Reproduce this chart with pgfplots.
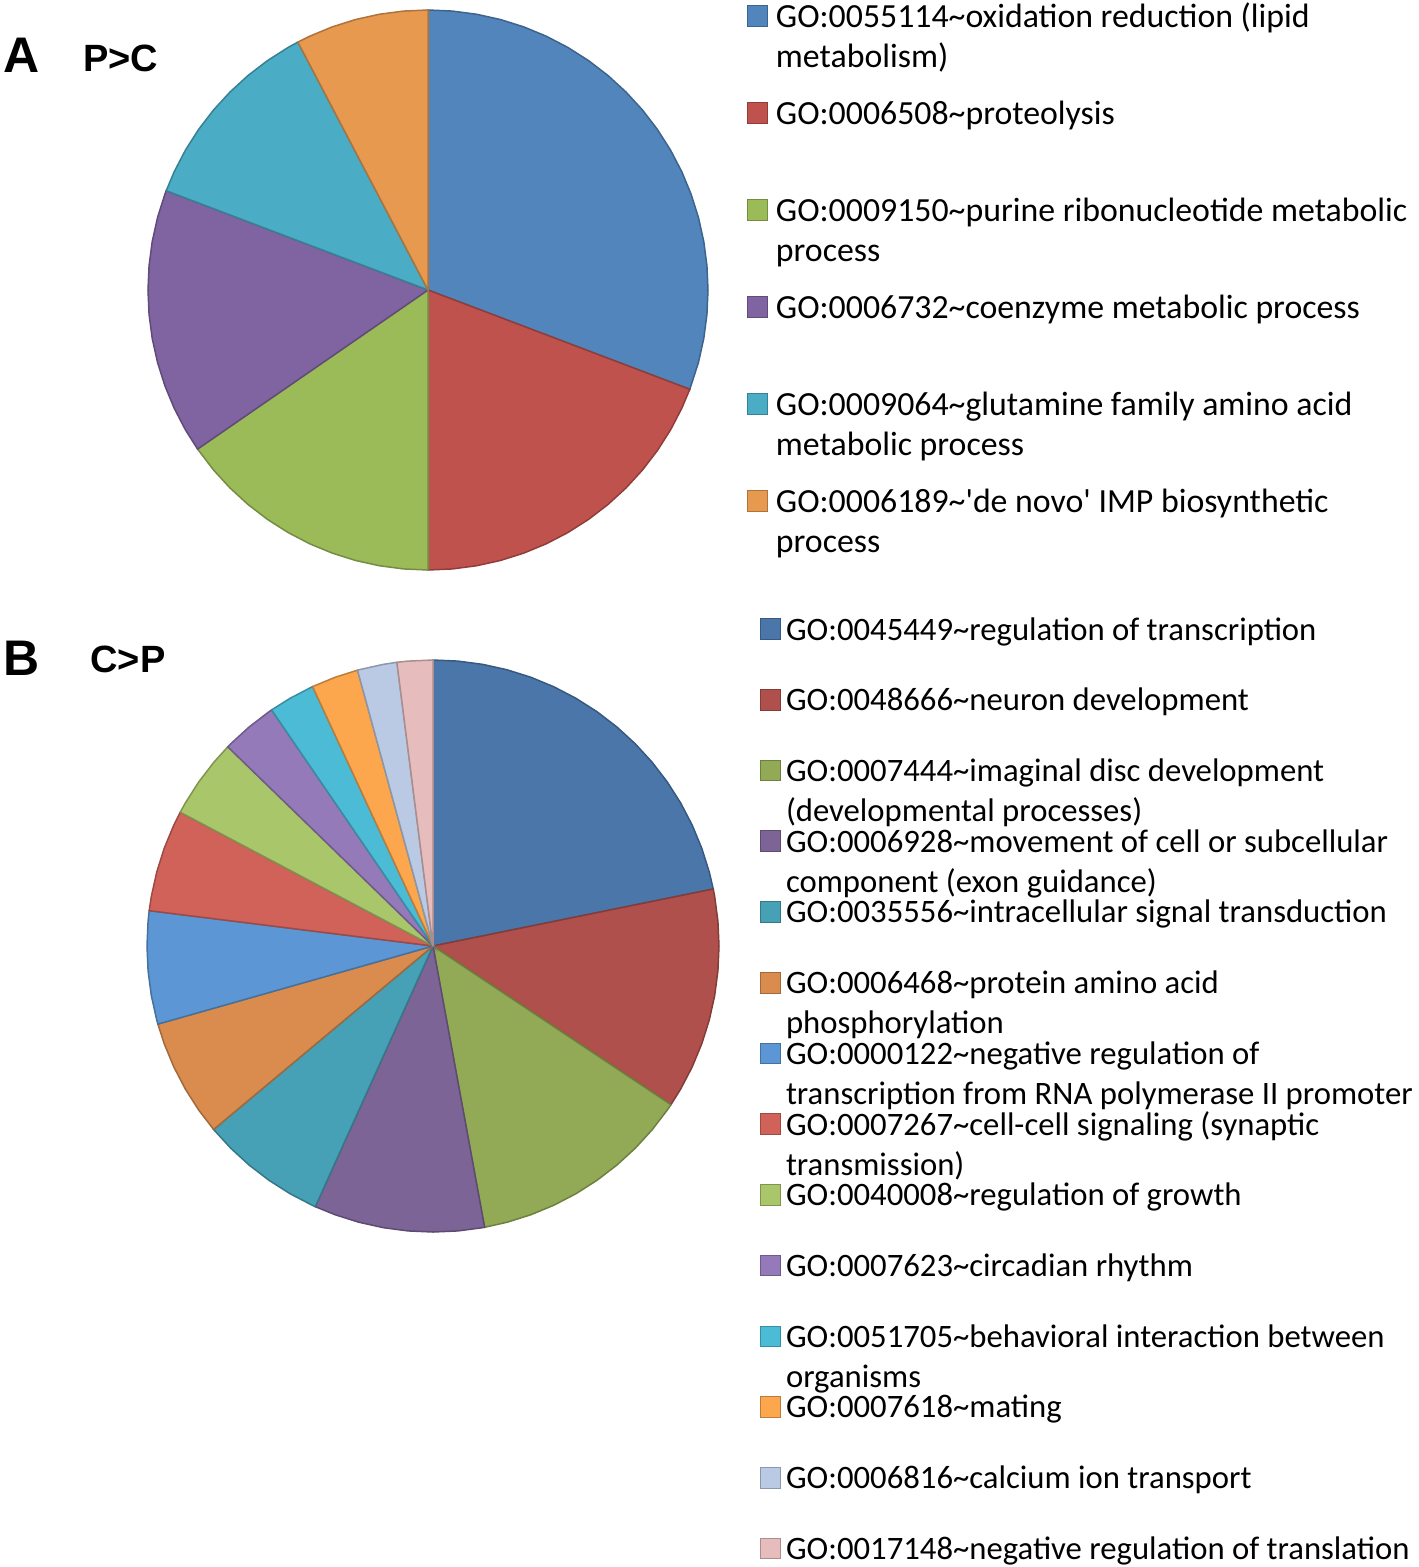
\documentclass[border=0pt]{standalone}
\usepackage{fontspec}
\usepackage{pgfplots}
\pgfplotsset{compat=1.18}
\usepgfplotslibrary{polar}
\setmainfont{Carlito}
\newfontfamily\labfont{Liberation Sans}
% colours, pie A
\definecolor{cA1}{RGB}{81,133,187}
\definecolor{cA2}{RGB}{192,82,78}
\definecolor{cA3}{RGB}{155,187,89}
\definecolor{cA4}{RGB}{128,100,162}
\definecolor{cA5}{RGB}{75,172,198}
\definecolor{cA6}{RGB}{232,153,80}
% colours, pie B
\definecolor{cB1}{RGB}{74,118,170}
\definecolor{cB2}{RGB}{176,80,76}
\definecolor{cB3}{RGB}{146,170,86}
\definecolor{cB4}{RGB}{124,100,150}
\definecolor{cB5}{RGB}{70,160,182}
\definecolor{cB6}{RGB}{218,140,78}
\definecolor{cB7}{RGB}{92,150,212}
\definecolor{cB8}{RGB}{208,98,90}
\definecolor{cB9}{RGB}{170,198,106}
\definecolor{cB10}{RGB}{148,122,184}
\definecolor{cB11}{RGB}{76,188,214}
\definecolor{cB12}{RGB}{252,166,78}
\definecolor{cB13}{RGB}{186,202,228}
\definecolor{cB14}{RGB}{230,188,188}
\newcommand\entA[1]{\raisebox{0pt}[14pt][34.5pt]{\parbox[t]{400pt}{\raggedright #1}}}
\newcommand\entB[1]{\raisebox{0pt}[14pt][21.36pt]{\parbox[t]{400pt}{\raggedright #1}}}
\newcommand\tl{\textasciitilde}
\pgfplotsset{
  pie/.style={
    scale only axis, hide axis, ymin=0, ymax=1, clip=false, anchor=center,
    legend image code/.code={\draw[##1,line width=0.5pt] (0pt,0.3pt) rectangle (10pt,10.6pt);},
    legend style={anchor=north west, draw=none, fill=none, inner sep=0pt, outer sep=0pt,
      row sep=0pt, column sep=4pt,
      nodes={inner sep=0pt, outer sep=0pt, text depth=, text height=},
      cells={anchor=base west}},
  },
  sl/.style={fill=#1, draw=#1!75!black, line width=0.75pt},
}
\begin{document}
\begin{tikzpicture}
\path[use as bounding box] (0pt,0pt) rectangle (709pt,-783.5pt);
\node[anchor=base west, inner sep=0pt, font=\labfont\bfseries\fontsize{25}{25}\selectfont] at (1.5pt,-36.5pt) {A};
\node[anchor=base west, inner sep=0pt, font=\labfont\bfseries\fontsize{19}{19}\selectfont] at (41.5pt,-36pt) {P>C};
\node[anchor=base west, inner sep=0pt, font=\labfont\bfseries\fontsize{25}{25}\selectfont] at (1.5pt,-337.5pt) {B};
\node[anchor=base west, inner sep=0pt, font=\labfont\bfseries\fontsize{19}{19}\selectfont] at (45pt,-336pt) {C>P};

\begin{polaraxis}[pie, at={(214pt,-145pt)}, width=280pt, height=280pt,
  legend style={at={(1.0696,1.0196)}, font=\fontsize{16.9}{20}\selectfont}]
\addplot[sl=cA1] coordinates {(0,0) (-20.77,1) (-15,1) (-10,1) (-5,1) (0,1) (5,1) (10,1) (15,1) (20,1) (25,1) (30,1) (35,1) (40,1) (45,1) (50,1) (55,1) (60,1) (65,1) (70,1) (75,1) (80,1) (85,1) (90,1)} -- cycle;
\addlegendentry{{\entA{GO:0055114\tl oxidation reduction (lipid\\metabolism)}}}
\addplot[sl=cA2] coordinates {(0,0) (-90,1) (-85,1) (-80,1) (-75,1) (-70,1) (-65,1) (-60,1) (-55,1) (-50,1) (-45,1) (-40,1) (-35,1) (-30,1) (-25,1) (-20.77,1)} -- cycle;
\addlegendentry{{\entA{GO:0006508\tl proteolysis}}}
\addplot[sl=cA3] coordinates {(0,0) (-145.38,1) (-140,1) (-135,1) (-130,1) (-125,1) (-120,1) (-115,1) (-110,1) (-105,1) (-100,1) (-95,1) (-90,1)} -- cycle;
\addlegendentry{{\entA{GO:0009150\tl purine ribonucleotide metabolic\\process}}}
\addplot[sl=cA4] coordinates {(0,0) (159.23,1) (160,1) (165,1) (170,1) (175,1) (180,1) (185,1) (190,1) (195,1) (200,1) (205,1) (210,1) (214.62,1)} -- cycle;
\addlegendentry{{\entA{GO:0006732\tl coenzyme metabolic process}}}
\addplot[sl=cA5] coordinates {(0,0) (117.69,1) (120,1) (125,1) (130,1) (135,1) (140,1) (145,1) (150,1) (155,1) (159.23,1)} -- cycle;
\addlegendentry{{\entA{GO:0009064\tl glutamine family amino acid\\metabolic process}}}
\addplot[sl=cA6] coordinates {(0,0) (90,1) (95,1) (100,1) (105,1) (110,1) (115,1) (117.69,1)} -- cycle;
\addlegendentry{{\entA{GO:0006189\tl\textquotesingle de novo\textquotesingle{} IMP biosynthetic\\process}}}
\end{polaraxis}

\begin{polaraxis}[pie, at={(216.5pt,-473pt)}, width=286pt, height=286pt,
  legend style={at={(1.0717,1.0839)}, column sep=2.5pt, font=\fontsize{16.35}{20}\selectfont}]
\addplot[sl=cB1] coordinates {(0,0) (11.5,1) (15,1) (20,1) (25,1) (30,1) (35,1) (40,1) (45,1) (50,1) (55,1) (60,1) (65,1) (70,1) (75,1) (80,1) (85,1) (90,1)} -- cycle;
\addlegendentry{{\entB{GO:0045449\tl regulation of transcription}}}
\addplot[sl=cB2] coordinates {(0,0) (-33.7,1) (-30,1) (-25,1) (-20,1) (-15,1) (-10,1) (-5,1) (0,1) (5,1) (10,1) (11.5,1)} -- cycle;
\addlegendentry{{\entB{GO:0048666\tl neuron development}}}
\addplot[sl=cB3] coordinates {(0,0) (-79.6,1) (-75,1) (-70,1) (-65,1) (-60,1) (-55,1) (-50,1) (-45,1) (-40,1) (-35,1) (-33.7,1)} -- cycle;
\addlegendentry{{\entB{GO:0007444\tl imaginal disc development\\(developmental processes)}}}
\addplot[sl=cB4] coordinates {(0,0) (245.7,1) (250,1) (255,1) (260,1) (265,1) (270,1) (275,1) (280,1) (280.4,1)} -- cycle;
\addlegendentry{{\entB{GO:0006928\tl movement of cell or subcellular\\component (exon guidance)}}}
\addplot[sl=cB5] coordinates {(0,0) (219.9,1) (225,1) (230,1) (235,1) (240,1) (245,1) (245.7,1)} -- cycle;
\addlegendentry{{\entB{GO:0035556\tl intracellular signal transduction}}}
\addplot[sl=cB6] coordinates {(0,0) (195.85,1) (200,1) (205,1) (210,1) (215,1) (219.9,1)} -- cycle;
\addlegendentry{{\entB{GO:0006468\tl protein amino acid\\phosphorylation}}}
\addplot[sl=cB7] coordinates {(0,0) (172.9,1) (175,1) (180,1) (185,1) (190,1) (195,1) (195.85,1)} -- cycle;
\addlegendentry{{\entB{GO:0000122\tl negative regulation of\\transcription from RNA polymerase II promoter}}}
\addplot[sl=cB8] coordinates {(0,0) (152.1,1) (155,1) (160,1) (165,1) (170,1) (172.9,1)} -- cycle;
\addlegendentry{{\entB{GO:0007267\tl cell-cell signaling (synaptic\\transmission)}}}
\addplot[sl=cB9] coordinates {(0,0) (135.85,1) (140,1) (145,1) (150,1) (152.1,1)} -- cycle;
\addlegendentry{{\entB{GO:0040008\tl regulation of growth}}}
\addplot[sl=cB10] coordinates {(0,0) (124.35,1) (125,1) (130,1) (135,1) (135.85,1)} -- cycle;
\addlegendentry{{\entB{GO:0007623\tl circadian rhythm}}}
\addplot[sl=cB11] coordinates {(0,0) (114.9,1) (115,1) (120,1) (124.35,1)} -- cycle;
\addlegendentry{{\entB{GO:0051705\tl behavioral interaction between\\organisms}}}
\addplot[sl=cB12] coordinates {(0,0) (105.3,1) (110,1) (114.9,1)} -- cycle;
\addlegendentry{{\entB{GO:0007618\tl mating}}}
\addplot[sl=cB13] coordinates {(0,0) (97.25,1) (100,1) (105,1) (105.3,1)} -- cycle;
\addlegendentry{{\entB{GO:0006816\tl calcium ion transport}}}
\addplot[sl=cB14] coordinates {(0,0) (90,1) (95,1) (97.25,1)} -- cycle;
\addlegendentry{{\entB{GO:0017148\tl negative regulation of translation}}}
\end{polaraxis}
\end{tikzpicture}
\end{document}
